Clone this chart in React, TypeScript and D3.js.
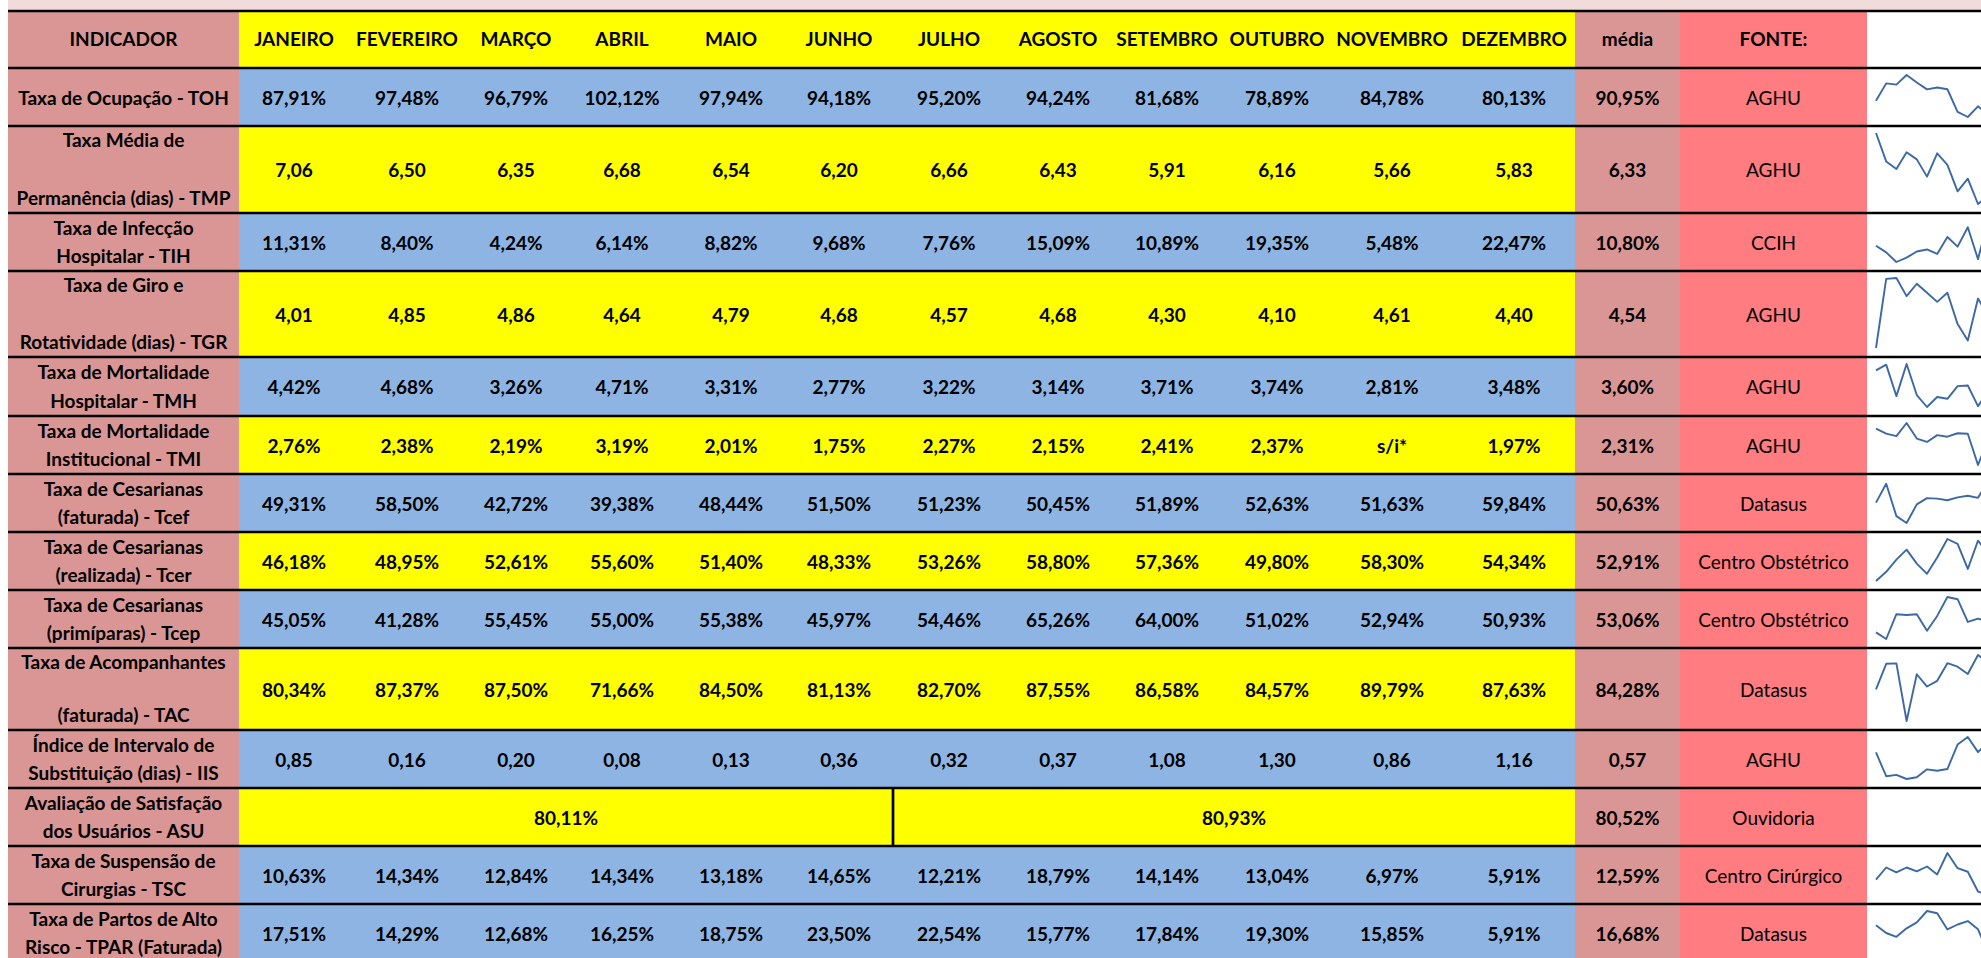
import React from "react";
import * as d3 from "d3";

// ---------- DATA ----------
const months = ["JANEIRO", "FEVEREIRO", "MARÇO", "ABRIL", "MAIO", "JUNHO", "JULHO", "AGOSTO", "SETEMBRO", "OUTUBRO", "NOVEMBRO", "DEZEMBRO"];

const indicatorLabels: string[][] = [
  ["Taxa de Ocupação - TOH"],
  ["Taxa Média de", "Permanência (dias) - TMP"],
  ["Taxa de Infecção", "Hospitalar - TIH"],
  ["Taxa de Giro e", "Rotatividade (dias) - TGR"],
  ["Taxa de Mortalidade", "Hospitalar - TMH"],
  ["Taxa de Mortalidade", "Institucional - TMI"],
  ["Taxa de Cesarianas", "(faturada) - Tcef"],
  ["Taxa de Cesarianas", "(realizada) - Tcer"],
  ["Taxa de Cesarianas", "(primíparas) - Tcep"],
  ["Taxa de Acompanhantes", "(faturada) - TAC"],
  ["Índice de Intervalo de", "Substituição (dias) - IIS"],
  ["Avaliação de Satisfação", "dos Usuários - ASU"],
  ["Taxa de Suspensão de", "Cirurgias - TSC"],
  ["Taxa de Partos de Alto", "Risco - TPAR (Faturada)"],
];

const units = ["pct", "num", "pct", "num", "pct", "pct", "pct", "pct", "pct", "pct", "num", "pct", "pct", "pct"];

const toh = [87.91, 97.48, 96.79, 102.12, 97.94, 94.18, 95.20, 94.24, 81.68, 78.89, 84.78, 80.13];
const tmp = [7.06, 6.50, 6.35, 6.68, 6.54, 6.20, 6.66, 6.43, 5.91, 6.16, 5.66, 5.83];
const tih = [11.31, 8.40, 4.24, 6.14, 8.82, 9.68, 7.76, 15.09, 10.89, 19.35, 5.48, 22.47];
const tgr = [4.01, 4.85, 4.86, 4.64, 4.79, 4.68, 4.57, 4.68, 4.30, 4.10, 4.61, 4.40];
const tmh = [4.42, 4.68, 3.26, 4.71, 3.31, 2.77, 3.22, 3.14, 3.71, 3.74, 2.81, 3.48];
const tmi: (number | null)[] = [2.76, 2.38, 2.19, 3.19, 2.01, 1.75, 2.27, 2.15, 2.41, 2.37, null, 1.97];
const tcef = [49.31, 58.50, 42.72, 39.38, 48.44, 51.50, 51.23, 50.45, 51.89, 52.63, 51.63, 59.84];
const tcer = [46.18, 48.95, 52.61, 55.60, 51.40, 48.33, 53.26, 58.80, 57.36, 49.80, 58.30, 54.34];
const tcep = [45.05, 41.28, 55.45, 55.00, 55.38, 45.97, 54.46, 65.26, 64.00, 51.02, 52.94, 50.93];
const tac = [80.34, 87.37, 87.50, 71.66, 84.50, 81.13, 82.70, 87.55, 86.58, 84.57, 89.79, 87.63];
const iis = [0.85, 0.16, 0.20, 0.08, 0.13, 0.36, 0.32, 0.37, 1.08, 1.30, 0.86, 1.16];
const asuSemesters = [80.11, 80.93];
const tsc = [10.63, 14.34, 12.84, 14.34, 13.18, 14.65, 12.21, 18.79, 14.14, 13.04, 6.97, 5.91];
const tpar = [17.51, 14.29, 12.68, 16.25, 18.75, 23.50, 22.54, 15.77, 17.84, 19.30, 15.85, 5.91];

const monthly: ((number | null)[] | null)[] = [toh, tmp, tih, tgr, tmh, tmi, tcef, tcer, tcep, tac, iis, null, tsc, tpar];

const means = [90.95, 6.33, 10.80, 4.54, 3.60, 2.31, 50.63, 52.91, 53.06, 84.28, 0.57, 80.52, 12.59, 16.68];
const sources = ["AGHU", "AGHU", "CCIH", "AGHU", "AGHU", "AGHU", "Datasus", "Centro Obstétrico", "Centro Obstétrico", "Datasus", "AGHU", "Ouvidoria", "Centro Cirúrgico", "Datasus"];
const missingText = "s/i*";

// ---------- LAYOUT / STYLE ----------
const W = 1981;
const H = 958;
const left = 8;
const indicatorRight = 239;
const colWidths = [110, 116, 102, 110, 108, 108, 112, 106, 112, 108, 122, 122];
const mediaRight = 1680;
const fonteRight = 1867;
const rowEdges = [11, 68, 126, 213, 271, 357, 416, 474, 532, 590, 648, 730, 788, 846, 904, 962];
const rowFill = ["b", "y", "b", "y", "b", "y", "b", "y", "b", "y", "b", "y", "b", "b"];
const spreadLabel = [false, true, false, true, false, false, false, false, false, true, false, false, false, false];

const C = {
  band: "#F2DCDB",
  pink: "#DA9694",
  salmon: "#FF7C80",
  yellow: "#FFFF00",
  blue: "#8DB4E2",
  line: "#000000",
  spark: "#3C69A3",
};
const FONT = "Lato, 'Open Sans', sans-serif";
const FS = 19;

const locale = d3.formatLocale({ decimal: ",", thousands: ".", grouping: [3], currency: ["R$", ""] });
const f2 = locale.format(".2f");
const fmt = (v: number | null, unit: string) => (v == null ? missingText : unit === "pct" ? f2(v) + "%" : f2(v));

export default function App() {
  const colEdges: number[] = [indicatorRight];
  colWidths.forEach((w) => colEdges.push(colEdges[colEdges.length - 1] + w));
  const monthsRight = colEdges[12];
  const colCenter = (i: number) => (colEdges[i] + colEdges[i + 1]) / 2;

  const sx = d3.scaleLinear().domain([0, 11]).range([1876, 1876 + 11 * 10.2]);

  const header = (
    <g>
      <rect x={left} y={rowEdges[0]} width={indicatorRight - left} height={rowEdges[1] - rowEdges[0]} fill={C.pink} />
      <rect x={indicatorRight} y={rowEdges[0]} width={monthsRight - indicatorRight} height={rowEdges[1] - rowEdges[0]} fill={C.yellow} />
      <rect x={monthsRight} y={rowEdges[0]} width={mediaRight - monthsRight} height={rowEdges[1] - rowEdges[0]} fill={C.pink} />
      <rect x={mediaRight} y={rowEdges[0]} width={fonteRight - mediaRight} height={rowEdges[1] - rowEdges[0]} fill={C.salmon} />
      {(() => {
        const by = (rowEdges[0] + rowEdges[1]) / 2 + 6.5;
        return (
          <g fontWeight="bold">
            <text x={(left + indicatorRight) / 2} y={by} textAnchor="middle">INDICADOR</text>
            {months.map((m, i) => (
              <text key={m} x={colCenter(i)} y={by} textAnchor="middle">{m}</text>
            ))}
            <text x={(monthsRight + mediaRight) / 2} y={by} textAnchor="middle">média</text>
            <text x={(mediaRight + fonteRight) / 2} y={by} textAnchor="middle">FONTE:</text>
          </g>
        );
      })()}
    </g>
  );

  const rows = indicatorLabels.map((label, r) => {
    const y0 = rowEdges[r + 1];
    const y1 = rowEdges[r + 2];
    const cy = (y0 + y1) / 2;
    const valueBase = cy + 7.7;
    const vals = monthly[r];
    const unit = units[r];
    let labelEls;
    if (label.length === 1) {
      labelEls = [<text key="l0" x={(left + indicatorRight) / 2} y={valueBase} textAnchor="middle">{label[0]}</text>];
    } else if (spreadLabel[r]) {
      labelEls = [
        <text key="l0" x={(left + indicatorRight) / 2} y={y0 + 21} textAnchor="middle">{label[0]}</text>,
        <text key="l1" x={(left + indicatorRight) / 2} y={y1 - 8} textAnchor="middle">{label[1]}</text>,
      ];
    } else {
      labelEls = [
        <text key="l0" x={(left + indicatorRight) / 2} y={cy - 7.3} textAnchor="middle">{label[0]}</text>,
        <text key="l1" x={(left + indicatorRight) / 2} y={cy + 21} textAnchor="middle">{label[1]}</text>,
      ];
    }

    let spark = null;
    if (vals) {
      const pts = vals.map((v) => (v == null ? 0 : v));
      const ext = d3.extent(pts) as [number, number];
      const sy = d3.scaleLinear().domain(ext).range([y1 - 9, y0 + 7]);
      const line = d3.line<number>().x((_, i) => sx(i)).y((v) => sy(v));
      spark = <path d={line(pts) || ""} fill="none" stroke={C.spark} strokeWidth={1.9} strokeLinejoin="round" />;
    }

    return (
      <g key={r}>
        <rect x={left} y={y0} width={indicatorRight - left} height={y1 - y0} fill={C.pink} />
        <rect x={indicatorRight} y={y0} width={monthsRight - indicatorRight} height={y1 - y0} fill={rowFill[r] === "b" ? C.blue : C.yellow} />
        <rect x={monthsRight} y={y0} width={mediaRight - monthsRight} height={y1 - y0} fill={C.pink} />
        <rect x={mediaRight} y={y0} width={fonteRight - mediaRight} height={y1 - y0} fill={C.salmon} />
        <g fontWeight="bold">
          {labelEls}
          {vals
            ? vals.map((v, i) => (
                <text key={i} x={colCenter(i)} y={valueBase} textAnchor="middle">{fmt(v, unit)}</text>
              ))
            : asuSemesters.map((v, s) => (
                <text key={s} x={(colEdges[s * 6] + colEdges[s * 6 + 6]) / 2} y={valueBase} textAnchor="middle">{fmt(v, unit)}</text>
              ))}
          <text x={(monthsRight + mediaRight) / 2} y={valueBase} textAnchor="middle">{fmt(means[r], unit)}</text>
        </g>
        <text x={(mediaRight + fonteRight) / 2} y={valueBase} textAnchor="middle">{sources[r]}</text>
        {spark}
        {!vals && (
          <line x1={colEdges[6]} x2={colEdges[6]} y1={y0} y2={y1} stroke={C.line} strokeWidth={2.7} />
        )}
      </g>
    );
  });

  return (
    <svg
      width={W}
      height={H}
      style={{ position: "absolute", left: 0, top: 0, display: "block" }}
      fontFamily={FONT}
      fontSize={FS}
      fill="#000"
    >
      <rect x={0} y={0} width={W} height={H} fill="#fff" />
      <rect x={left} y={0} width={W - left} height={rowEdges[0]} fill={C.band} />
      {header}
      {rows}
      {rowEdges.map((y, i) => (
        <line key={i} x1={left} x2={W} y1={y} y2={y} stroke={C.line} strokeWidth={2.7} />
      ))}
    </svg>
  );
}
